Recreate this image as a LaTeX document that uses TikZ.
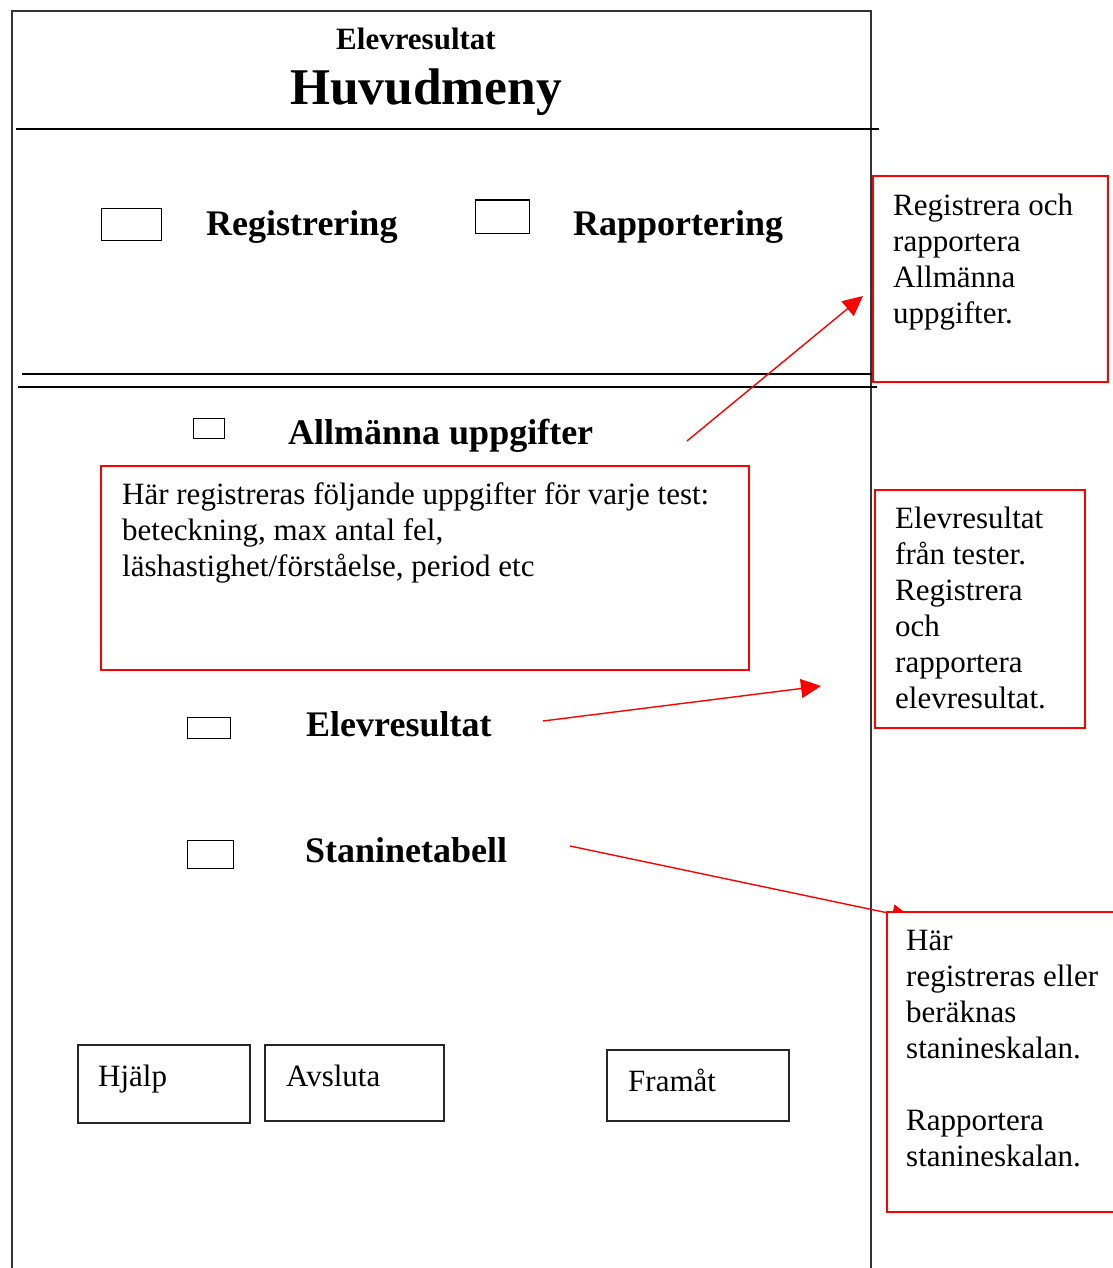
\documentclass[tikz,border=0pt]{standalone}
\usepackage{fontspec}
\setmainfont{Liberation Serif}
\usetikzlibrary{arrows.meta}
\begin{document}
\begin{tikzpicture}[x=1pt,y=-1pt,
  frameline/.style={draw=black!80,line width=1.4pt},
  sepline/.style={draw=black,line width=1.2pt},
  chk/.style={draw=black,line width=1pt},
  btn/.style={draw=black!85,line width=1.2pt},
  redbox/.style={draw=red,line width=1.4pt,fill=white},
  lbl/.style={inner sep=0pt,anchor=base west,font=\fontsize{36}{40}\selectfont\bfseries},
  note/.style={inner sep=0pt,anchor=north west,align=left,font=\fontsize{31}{36}\selectfont},
  btext/.style={inner sep=0pt,anchor=base west,font=\fontsize{31}{36}\selectfont},
  arr/.style={draw=red,line width=1.4pt,-{Triangle[length=20pt,width=19pt]}}]
\useasboundingbox (0,0) rectangle (1112,1268);
\fill[white] (0,0) rectangle (1112,1268);
% outer frame
\draw[frameline] (12,1270) -- (12,11) -- (871,11) -- (871,1270);
\draw[sepline] (16,129) -- (879,129);
\draw[sepline] (22,374) -- (872,374);
\draw[sepline] (18,387) -- (877,387);
% title
\node[inner sep=0pt,anchor=base,font=\fontsize{31}{34}\selectfont\bfseries] (t1) at (416,50) {Elevresultat};
\node[inner sep=0pt,anchor=base,font=\fontsize{51.5}{56}\selectfont\bfseries] (t2) at (426,105) {Huvudmeny};
% menu items
\node[chk,minimum width=60pt,minimum height=32pt,inner sep=0pt] (c1) at (131,224) {};
\node[lbl] (l1) at (206,235) {Registrering};
\node[chk,minimum width=54pt,minimum height=33pt,inner sep=0pt] (c2) at (502,216.5) {};
\node[lbl] (l2) at (573,235) {Rapportering};
\node[chk,minimum width=31pt,minimum height=20pt,inner sep=0pt] (c3) at (208.5,428) {};
\node[lbl] (l3) at (288,444) {Allmänna uppgifter};
\node[chk,minimum width=43pt,minimum height=21pt,inner sep=0pt] (c4) at (208.5,727.5) {};
\node[lbl] (l4) at (306,736) {Elevresultat};
\node[chk,minimum width=46pt,minimum height=28pt,inner sep=0pt] (c5) at (210,854) {};
\node[lbl] (l5) at (305,862) {Staninetabell};
% buttons
\node[btn,minimum width=172pt,minimum height=78pt,inner sep=0pt] (b1) at (164,1084) {};
\node[btext] (b1t) at (98,1086) {Hjälp};
\node[btn,minimum width=179pt,minimum height=76pt,inner sep=0pt] (b2) at (354.5,1083) {};
\node[btext] (b2t) at (286,1086) {Avsluta};
\node[btn,minimum width=182pt,minimum height=71pt,inner sep=0pt] (b3) at (698,1085.5) {};
\node[btext] (b3t) at (628,1091) {Framåt};
% arrow coordinates
\coordinate (a1s) at (687,441);
\coordinate (a1e) at (863,296);
\coordinate (a2s) at (543,721);
\coordinate (a2e) at (821,686);
\coordinate (a3s) at (570,846);
\coordinate (a3e) at (912,918);
\draw[arr] (a1s) -- (a1e);
\draw[arr] (a2s) -- (a2e);
\draw[arr] (a3s) -- (a3e);
% red note boxes
\draw[redbox] (101,466) rectangle (749,670);
\node[note] (n1) at (122,479) {\strut Här registreras följande uppgifter för varje test:\\beteckning, max antal fel,\\läshastighet/förståelse, period etc};
\draw[redbox] (873,176) rectangle (1108,382);
\node[note] (n2) at (893,190) {\strut Registrera och\\rapportera\\Allmänna\\uppgifter.};
\draw[redbox] (875,490) rectangle (1085,728);
\node[note] (n3) at (895,503) {\strut Elevresultat\\från tester.\\Registrera\\och\\rapportera\\elevresultat.};
\draw[redbox] (887,912) rectangle (1118,1212);
\node[note] (n4) at (906,925) {\strut Här\\registreras eller\\beräknas\\stanineskalan.\\[36pt]Rapportera\\stanineskalan.};
\end{tikzpicture}
\end{document}
